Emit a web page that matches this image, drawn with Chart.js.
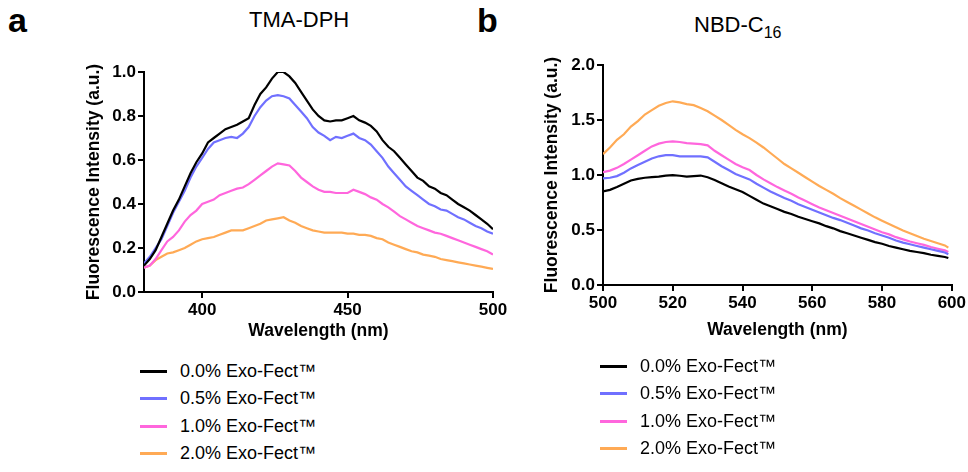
<!DOCTYPE html>
<html>
<head>
<meta charset="utf-8">
<script src="https://cdn.jsdelivr.net/npm/chart.js@4"></script>
<style>
  body { margin: 0; background: #fff; font-family: 'Liberation Sans', Arial, sans-serif; }
  #page { position: relative; width: 968px; height: 472px; overflow: hidden; }
  .abs { position: absolute; white-space: nowrap; color: #000; }
  .letter { font-weight: bold; font-size: 34px; line-height: 34px; }
  .ptitle { font-size: 22px; line-height: 20px; }
  .ptitle sub { font-size: 16px; vertical-align: -6px; line-height: 0; }
  .legend .row { position: absolute; left: 0; height: 27px; font-size: 18px; line-height: 27px; }
  .legend .sw { position: absolute; left: 0; top: 12px; width: 27px; height: 3px; }
  .legend .tx { position: absolute; left: 40px; top: 0; }
</style>
</head>
<body>
<div id="page">
  <div class="abs letter" style="left:8px; top:3px;">a</div>
  <div class="abs letter" style="left:477px; top:3px;">b</div>
  <div class="abs ptitle" style="left:249px; top:10px;">TMA-DPH</div>
  <div class="abs ptitle" style="left:694px; top:15px;">NBD-C<sub>16</sub></div>

  <canvas id="chartA" class="abs" style="left:0; top:0;" width="520" height="350"></canvas>
  <canvas id="chartB" class="abs" style="left:470px; top:0;" width="498" height="350"></canvas>

  <div id="legendA" class="abs legend" style="left:140px; top:358px;"></div>
  <div id="legendB" class="abs legend" style="left:600px; top:353px;"></div>
</div>

<script>
// series labels and colours
const seriesLabels = ['0.0% Exo-Fect™', '0.5% Exo-Fect™', '1.0% Exo-Fect™', '2.0% Exo-Fect™'];
const seriesColors = ['#000000', '#7070ff', '#ff66dd', '#ffaa55'];

// --- panel a: TMA-DPH ---
const aWavelength = [380, 382, 384, 386, 388, 390, 392, 394, 396, 398, 400, 402, 404, 406, 408, 410, 412, 414, 416, 418,
  420, 422, 424, 426, 428, 430, 432, 434, 436, 438, 440, 442, 444, 446, 448, 450, 452, 454, 456, 458,
  460, 462, 464, 466, 468, 470, 472, 474, 476, 478, 480, 482, 484, 486, 488, 490, 492, 494, 496, 498, 500];
const aBlack = [0.12, 0.15, 0.19, 0.25, 0.31, 0.37, 0.42, 0.48, 0.54, 0.59, 0.63, 0.68, 0.70, 0.72, 0.74, 0.75, 0.76, 0.775, 0.79, 0.85,
  0.90, 0.93, 0.97, 1.00, 1.00, 0.98, 0.95, 0.91, 0.87, 0.83, 0.80, 0.78, 0.775, 0.78, 0.78, 0.79, 0.80, 0.78, 0.77, 0.755,
  0.73, 0.69, 0.66, 0.64, 0.61, 0.58, 0.55, 0.52, 0.505, 0.48, 0.47, 0.45, 0.44, 0.42, 0.40, 0.385, 0.37, 0.35, 0.33, 0.31, 0.285];
const aBlue = [0.13, 0.16, 0.20, 0.24, 0.30, 0.36, 0.41, 0.46, 0.52, 0.57, 0.61, 0.65, 0.68, 0.69, 0.70, 0.705, 0.70, 0.72, 0.75, 0.80,
  0.84, 0.87, 0.89, 0.895, 0.89, 0.88, 0.85, 0.82, 0.79, 0.75, 0.725, 0.71, 0.69, 0.705, 0.70, 0.71, 0.72, 0.70, 0.69, 0.67,
  0.64, 0.61, 0.57, 0.54, 0.51, 0.48, 0.46, 0.44, 0.42, 0.40, 0.39, 0.375, 0.37, 0.355, 0.34, 0.33, 0.315, 0.30, 0.29, 0.275, 0.265];
const aPink = [0.11, 0.12, 0.15, 0.19, 0.23, 0.25, 0.28, 0.32, 0.35, 0.37, 0.40, 0.41, 0.42, 0.44, 0.45, 0.46, 0.47, 0.475, 0.49, 0.51,
  0.53, 0.55, 0.57, 0.585, 0.58, 0.575, 0.55, 0.52, 0.50, 0.48, 0.465, 0.455, 0.455, 0.45, 0.45, 0.45, 0.465, 0.455, 0.445, 0.43,
  0.42, 0.40, 0.385, 0.365, 0.345, 0.33, 0.315, 0.30, 0.29, 0.28, 0.27, 0.265, 0.255, 0.245, 0.235, 0.225, 0.215, 0.205, 0.195, 0.185, 0.17];
const aOrange = [0.11, 0.12, 0.145, 0.16, 0.175, 0.18, 0.19, 0.20, 0.215, 0.23, 0.24, 0.245, 0.25, 0.26, 0.27, 0.28, 0.28, 0.28, 0.29, 0.30,
  0.31, 0.325, 0.33, 0.335, 0.34, 0.325, 0.315, 0.30, 0.29, 0.28, 0.275, 0.27, 0.27, 0.27, 0.27, 0.265, 0.265, 0.26, 0.26, 0.255,
  0.245, 0.24, 0.225, 0.215, 0.205, 0.195, 0.185, 0.18, 0.17, 0.165, 0.16, 0.15, 0.145, 0.14, 0.135, 0.13, 0.125, 0.12, 0.115, 0.11, 0.105];
const aXTicks = [400, 450, 500];
const aYTicks = [0, 0.2, 0.4, 0.6, 0.8, 1.0];

// --- panel b: NBD-C16 ---
const bWavelength = [500, 502, 504, 506, 508, 510, 512, 514, 516, 518, 520, 522, 524, 526, 528, 530, 532, 534, 536, 538,
  540, 542, 544, 546, 548, 550, 552, 554, 556, 558, 560, 562, 564, 566, 568, 570, 572, 574, 576, 578,
  580, 582, 584, 586, 588, 590, 592, 594, 596, 598, 599];
const bBlack = [0.85, 0.865, 0.89, 0.92, 0.95, 0.965, 0.975, 0.98, 0.985, 0.995, 0.998, 0.993, 0.985, 0.99, 0.995, 0.98, 0.955, 0.925, 0.895, 0.87,
  0.845, 0.81, 0.775, 0.74, 0.715, 0.69, 0.665, 0.645, 0.62, 0.60, 0.58, 0.56, 0.535, 0.515, 0.49, 0.47, 0.45, 0.43, 0.41, 0.39,
  0.375, 0.355, 0.34, 0.325, 0.31, 0.30, 0.29, 0.275, 0.265, 0.255, 0.245];
const bBlue = [0.97, 0.975, 0.99, 1.02, 1.06, 1.09, 1.12, 1.15, 1.17, 1.18, 1.18, 1.17, 1.17, 1.17, 1.17, 1.16, 1.12, 1.08, 1.045, 1.01,
  0.985, 0.96, 0.92, 0.885, 0.85, 0.82, 0.79, 0.765, 0.735, 0.71, 0.685, 0.66, 0.635, 0.61, 0.59, 0.565, 0.54, 0.515, 0.495, 0.47,
  0.45, 0.43, 0.405, 0.385, 0.37, 0.355, 0.34, 0.325, 0.31, 0.295, 0.28];
const bPink = [1.025, 1.04, 1.065, 1.10, 1.14, 1.18, 1.22, 1.26, 1.285, 1.30, 1.305, 1.30, 1.29, 1.285, 1.28, 1.27, 1.22, 1.18, 1.14, 1.10,
  1.07, 1.045, 1.00, 0.96, 0.925, 0.89, 0.86, 0.83, 0.795, 0.765, 0.735, 0.705, 0.68, 0.655, 0.63, 0.605, 0.58, 0.555, 0.53, 0.505,
  0.48, 0.46, 0.435, 0.415, 0.395, 0.38, 0.365, 0.345, 0.33, 0.315, 0.30];
const bOrange = [1.19, 1.25, 1.32, 1.37, 1.44, 1.49, 1.55, 1.59, 1.63, 1.655, 1.67, 1.66, 1.645, 1.635, 1.61, 1.58, 1.54, 1.50, 1.455, 1.41,
  1.37, 1.335, 1.295, 1.25, 1.20, 1.15, 1.10, 1.06, 1.02, 0.98, 0.94, 0.90, 0.865, 0.83, 0.79, 0.755, 0.72, 0.685, 0.65, 0.615,
  0.585, 0.555, 0.525, 0.495, 0.47, 0.445, 0.42, 0.40, 0.38, 0.36, 0.34];
const bXTicks = [500, 520, 540, 560, 580, 600];
const bYTicks = [0, 0.5, 1.0, 1.5, 2.0];

Chart.defaults.font.family = "'Liberation Sans', Arial, sans-serif";
Chart.defaults.color = '#000';

function makeDatasets(xs, seriesList) {
  return seriesList.map((ys, i) => ({
    label: seriesLabels[i],
    data: xs.map((x, j) => ({ x: x, y: ys[j] })),
    borderColor: seriesColors[i],
    backgroundColor: seriesColors[i],
    borderWidth: 2.2,
    pointRadius: 0,
    tension: 0,
    fill: false
  }));
}

function axisStyle() {
  return {
    grid: { display: true, drawOnChartArea: false, drawTicks: true, tickLength: 6, color: '#000', lineWidth: 2 },
    border: { display: true, color: '#000', width: 2 }
  };
}

function makeChart(id, xs, seriesList, cfg) {
  const ctx = document.getElementById(id).getContext('2d');
  return new Chart(ctx, {
    type: 'line',
    data: { datasets: makeDatasets(xs, seriesList) },
    options: {
      responsive: false,
      animation: false,
      layout: { padding: cfg.padding },
      plugins: { legend: { display: false }, tooltip: { enabled: false } },
      scales: {
        x: Object.assign(axisStyle(), {
          type: 'linear',
          min: cfg.xMin, max: cfg.xMax,
          afterBuildTicks: (axis) => { axis.ticks = cfg.xTicks.map(v => ({ value: v })); },
          afterFit: (axis) => { axis.height = cfg.xAxisHeight; },
          ticks: { font: { size: 17, weight: 'bold' }, padding: 2, maxRotation: 0, callback: (v) => String(v) },
          title: { display: true, text: 'Wavelength (nm)', font: { size: 17.5, weight: 'bold' } }
        }),
        y: Object.assign(axisStyle(), {
          type: 'linear',
          min: cfg.yMin, max: cfg.yMax,
          afterBuildTicks: (axis) => { axis.ticks = cfg.yTicks.map(v => ({ value: v })); },
          afterFit: (axis) => { axis.width = cfg.yAxisWidth; },
          ticks: { font: { size: 17, weight: 'bold' }, padding: 2, callback: (v) => Number(v).toFixed(1) },
          title: { display: true, text: 'Fluorescence Intensity (a.u.)', font: { size: 17.5, weight: 'bold' } }
        })
      }
    }
  });
}

const chartA = makeChart('chartA', aWavelength, [aBlack, aBlue, aPink, aOrange], {
  padding: { left: 80, top: 72, right: 27, bottom: 4 },
  xMin: 380, xMax: 500, xTicks: aXTicks,
  yMin: 0, yMax: 1.0, yTicks: aYTicks,
  yAxisWidth: 64, xAxisHeight: 54
});

const chartB = makeChart('chartB', bWavelength, [bBlack, bBlue, bPink, bOrange], {
  padding: { left: 68, top: 65, right: 16, bottom: 5 },
  xMin: 500, xMax: 600, xTicks: bXTicks,
  yMin: 0, yMax: 2.0, yTicks: bYTicks,
  yAxisWidth: 65, xAxisHeight: 60
});

// HTML legends built from the chart datasets
function buildLegend(chart, elId) {
  const el = document.getElementById(elId);
  chart.data.datasets.forEach((ds, i) => {
    const row = document.createElement('div');
    row.className = 'row';
    row.style.top = (i * 27.3) + 'px';
    const sw = document.createElement('div');
    sw.className = 'sw';
    sw.style.background = ds.borderColor;
    const tx = document.createElement('div');
    tx.className = 'tx';
    tx.textContent = ds.label;
    row.appendChild(sw);
    row.appendChild(tx);
    el.appendChild(row);
  });
}
buildLegend(chartA, 'legendA');
buildLegend(chartB, 'legendB');
</script>
</body>
</html>
